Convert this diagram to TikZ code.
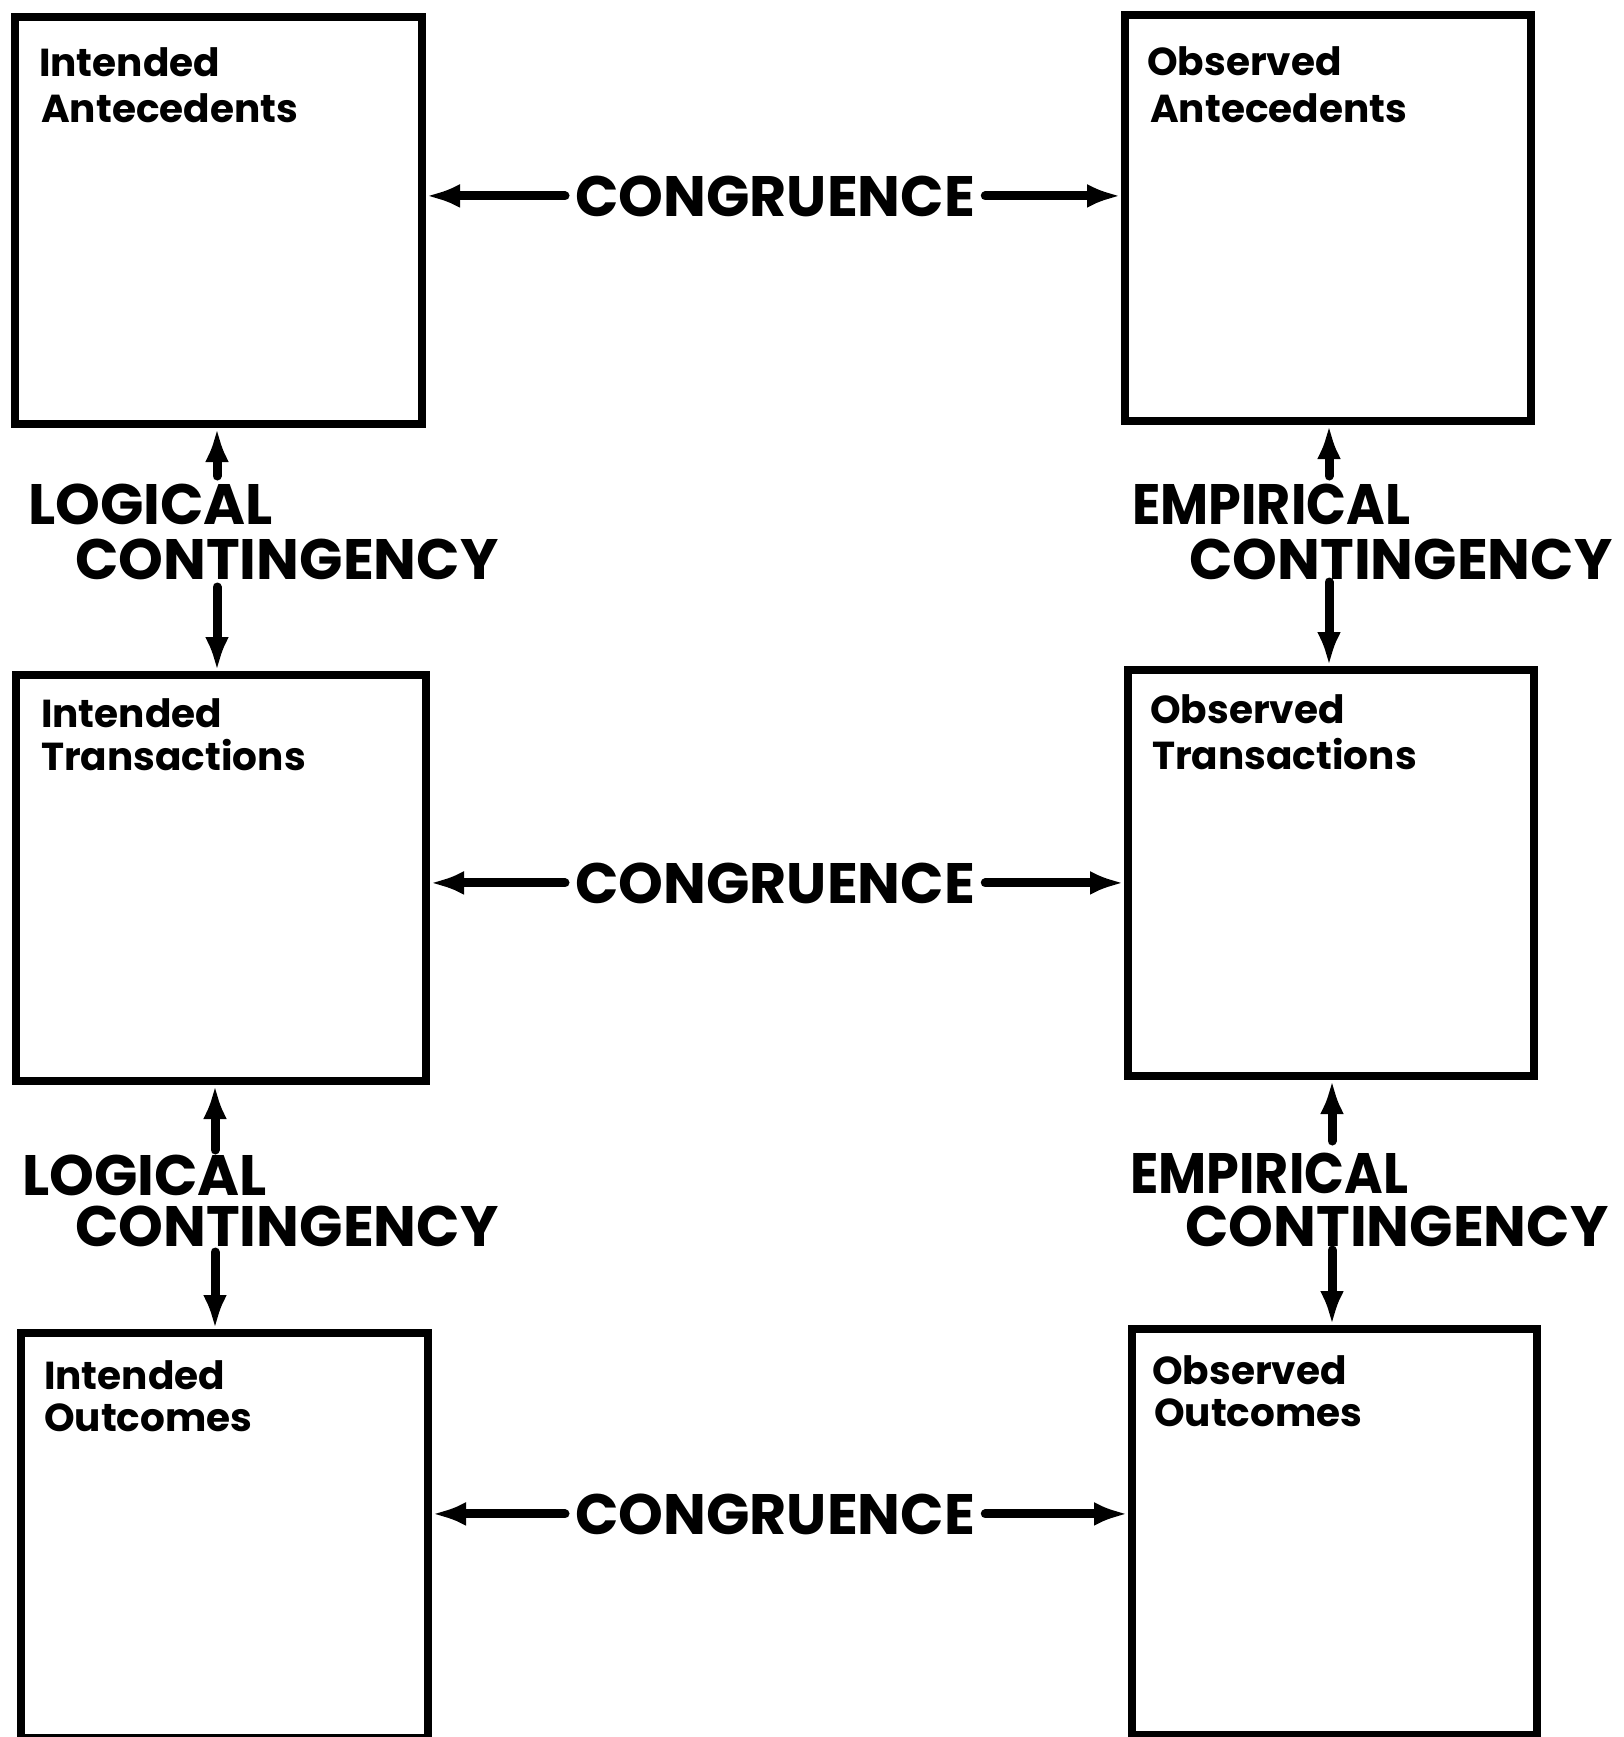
\documentclass[tikz,border=0pt]{standalone}
\usepackage{fontspec}
\setmainfont{Poppins}
\usetikzlibrary{arrows.meta}
\tikzset{
  box/.style={draw, line width=8pt, inner sep=0pt, anchor=north west},
  boxtxt/.style={anchor=base west, inner sep=0pt, font=\fontsize{39}{39}\selectfont\bfseries},
  big/.style={anchor=base west, inner sep=0pt, font=\fontsize{57}{57}\selectfont\bfseries},
  cong/.style={big, inner xsep=10pt, inner ysep=0pt},
  conn/.style={draw, line width=9pt, line cap=round, -{Latex[length=34pt,width=24pt]}}
}
\begin{document}
\begin{tikzpicture}[x=1pt,y=-1pt]
\fill[white] (0,0) rectangle (1624,1737);
\useasboundingbox (0,0) rectangle (1624,1737);
% boxes
\node[box, minimum width=407pt, minimum height=407pt] (ia) at (11,13) {};
\node[box, minimum width=406pt, minimum height=406pt] (oa) at (1121,11) {};
\node[box, minimum width=410pt, minimum height=406pt] (it) at (12,671) {};
\node[box, minimum width=406pt, minimum height=406pt] (ot) at (1124,666) {};
\node[box, minimum width=407pt, minimum height=405pt] (io) at (17,1329) {};
\node[box, minimum width=405pt, minimum height=406pt] (oo) at (1128,1325) {};
% box labels
\node[boxtxt] (ia1) at ([shift={(28,64)}]ia.north west) {Intended};
\node[boxtxt] (ia2) at ([shift={(30,109)}]ia.north west) {Antecedents};
\node[boxtxt] (oa1) at ([shift={(26,64)}]oa.north west) {Observed};
\node[boxtxt] (oa2) at ([shift={(29,111)}]oa.north west) {Antecedents};
\node[boxtxt] (it1) at ([shift={(29,56)}]it.north west) {Intended};
\node[boxtxt] (it2) at ([shift={(29,99)}]it.north west) {Transactions};
\node[boxtxt] (ot1) at ([shift={(26,57)}]ot.north west) {Observed};
\node[boxtxt] (ot2) at ([shift={(28,103)}]ot.north west) {Transactions};
\node[boxtxt] (io1) at ([shift={(27,60)}]io.north west) {Intended};
\node[boxtxt] (io2) at ([shift={(27,102)}]io.north west) {Outcomes};
\node[boxtxt] (oo1) at ([shift={(24,59)}]oo.north west) {Observed};
\node[boxtxt] (oo2) at ([shift={(26,101)}]oo.north west) {Outcomes};
% congruence
\node[cong] (c1) at (565,216) {CONGRUENCE};
\node[cong] (c2) at (565,903) {CONGRUENCE};
\node[cong] (c3) at (565,1534) {CONGRUENCE};
\path[conn] (c1.west) -- (c1.west -| ia.east);
\path[conn] (c1.east) -- (c1.east -| oa.west);
\path[conn] (c2.west) -- (c2.west -| it.east);
\path[conn] (c2.east) -- (c2.east -| ot.west);
\path[conn] (c3.west) -- (c3.west -| io.east);
\path[conn] (c3.east) -- (c3.east -| oo.west);
% contingency labels
\node[big] (lg1) at (28,524) {LOGICAL};
\node[big] (lc1) at (75,579) {CONTINGENCY};
\node[big, xscale=0.92] (eg1) at (1132,524) {EMPIRICAL};
\node[big] (ec1) at (1189,579) {CONTINGENCY};
\node[big] (lg2) at (22,1195) {LOGICAL};
\node[big] (lc2) at (75,1246) {CONTINGENCY};
\node[big, xscale=0.92] (eg2) at (1130,1193) {EMPIRICAL};
\node[big] (ec2) at (1185,1246) {CONTINGENCY};
% contingency arrows
\coordinate (aL1u) at (217,476);
\coordinate (aL1d) at (217,587);
\coordinate (aR1u) at (1329,476);
\coordinate (aR1d) at (1329,582);
\coordinate (aL2u) at (215,1150);
\coordinate (aL2d) at (215,1252);
\coordinate (aR2u) at (1332,1141);
\coordinate (aR2d) at (1332,1250);
\path[conn] (aL1u) -- (aL1u |- ia.south);
\path[conn] (aL1d) -- (aL1d |- it.north);
\path[conn] (aR1u) -- (aR1u |- oa.south);
\path[conn] (aR1d) -- (aR1d |- ot.north);
\path[conn] (aL2u) -- (aL2u |- it.south);
\path[conn] (aL2d) -- (aL2d |- io.north);
\path[conn] (aR2u) -- (aR2u |- ot.south);
\path[conn] (aR2d) -- (aR2d |- oo.north);
\end{tikzpicture}
\end{document}
